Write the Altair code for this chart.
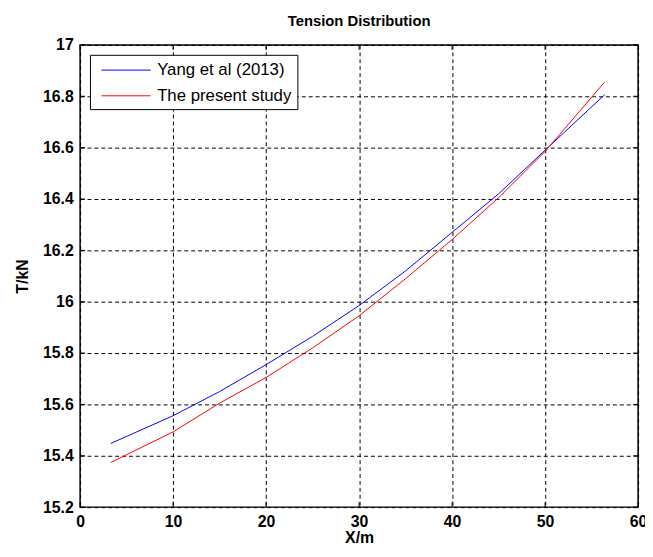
import altair as alt
import pandas as pd

x_vals = [3.3, 10, 15, 20, 25, 30, 35, 40, 45, 50, 56.4]
yang = [15.448, 15.556, 15.65, 15.755, 15.865, 15.985, 16.12, 16.27, 16.42, 16.59, 16.806]
present = [15.374, 15.493, 15.605, 15.705, 15.82, 15.945, 16.09, 16.242, 16.405, 16.585, 16.855]
series_names = ["Yang et al (2013)", "The present study"]
series_colors = ["#0000ff", "#ff0000"]
x_ticks = [0, 10, 20, 30, 40, 50, 60]
y_ticks = [15.2, 15.4, 15.6, 15.8, 16.0, 16.2, 16.4, 16.6, 16.8, 17.0]

rows = []
for xv, a, b in zip(x_vals, yang, present):
    rows.append({"x": xv, "T": a, "series": series_names[0]})
    rows.append({"x": xv, "T": b, "series": series_names[1]})
df = pd.DataFrame(rows)
xt = pd.DataFrame({"x": x_ticks})
yt = pd.DataFrame({"T": y_ticks})

FONT = "Liberation Sans, Arial, sans-serif"
W, H = 565, 468

xscale = alt.Scale(domain=[0, 60], nice=False, zero=False)
yscale = alt.Scale(domain=[15.2, 17], nice=False, zero=False)

xaxis = alt.Axis(
    values=x_ticks, title="X/m", format="d", grid=True, gridColor="black",
    gridDash=[4, 3], gridOpacity=1, gridWidth=1, ticks=False, tickSize=0,
    domain=False, labelFont=FONT, labelFontSize=16, labelFontWeight="bold",
    labelColor="black", labelPadding=7, titleFont=FONT, titleFontSize=16,
    titleFontWeight="bold", titleColor="black", titlePadding=0,
    labelOverlap=False, labelFlush=False)
yaxis = alt.Axis(
    values=y_ticks, title="T/kN", format="~g", grid=True, gridColor="black",
    gridDash=[4, 3], gridOpacity=1, gridWidth=1, ticks=False, tickSize=0,
    domain=False, labelFont=FONT, labelFontSize=16, labelFontWeight="bold",
    labelColor="black", labelPadding=7, titleFont=FONT, titleFontSize=16,
    titleFontWeight="bold", titleColor="black", titlePadding=12,
    labelOverlap=False, labelFlush=False)

lines = alt.Chart(df).mark_line(strokeWidth=1).encode(
    x=alt.X("x:Q", scale=xscale, axis=xaxis),
    y=alt.Y("T:Q", scale=yscale, axis=yaxis),
    color=alt.Color("series:N", sort=series_names,
                    scale=alt.Scale(domain=series_names, range=series_colors),
                    legend=alt.Legend(
                        title=None, orient="none", legendX=10, legendY=10,
                        fillColor="white", strokeColor="black",
                        padding=5, symbolType="M-0.4,0H4.6", symbolSize=400,
                        symbolStrokeWidth=1, labelOffset=42, rowPadding=7,
                        labelFont=FONT, labelFontSize=17, labelColor="black",
                        labelLimit=300)),
)

top_ticks = alt.Chart(xt).mark_rule(color="black", strokeWidth=1).encode(
    x=alt.X("x:Q", scale=xscale, axis=xaxis), y=alt.value(0), y2=alt.value(5))
bot_ticks = alt.Chart(xt).mark_rule(color="black", strokeWidth=1).encode(
    x=alt.X("x:Q", scale=xscale, axis=xaxis), y=alt.value(H), y2=alt.value(H - 5))
left_ticks = alt.Chart(yt).mark_rule(color="black", strokeWidth=1).encode(
    y=alt.Y("T:Q", scale=yscale, axis=yaxis), x=alt.value(0), x2=alt.value(5))
right_ticks = alt.Chart(yt).mark_rule(color="black", strokeWidth=1).encode(
    y=alt.Y("T:Q", scale=yscale, axis=yaxis), x=alt.value(W), x2=alt.value(W - 5))

chart = alt.layer(lines, top_ticks, bot_ticks, left_ticks, right_ticks).properties(
    width=W, height=H,
    title=alt.TitleParams("Tension Distribution", font=FONT, fontSize=15,
                          fontWeight="bold", color="black", offset=8),
    autosize=alt.AutoSizeParams(type="none"),
    padding={"left": 73, "top": 34, "right": 7, "bottom": 39},
    background="white",
).configure_view(stroke="black", strokeWidth=1.5)

chart.save("out.html", embed_options={"renderer": "svg", "actions": False})
